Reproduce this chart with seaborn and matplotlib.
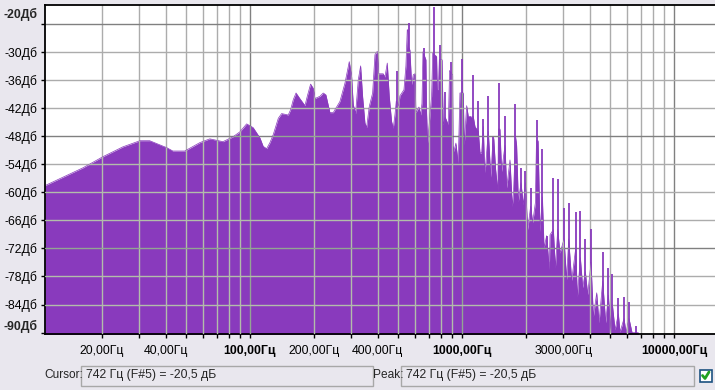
import pandas as pd
import matplotlib
matplotlib.use("Agg")
import matplotlib.pyplot as plt
from matplotlib.patches import Rectangle
from matplotlib.lines import Line2D
import seaborn as sns

# spectrum body, low / mid / high part
low_hz = [10.8, 16.3, 20.3, 25.2, 30.3, 33.7, 40.6, 43.3, 49.3, 58.1, 64.7, 74.6, 83, 89.7, 96.5,
          103.6, 111.5, 115.5, 119.9, 124.3, 128.8, 136.1, 141.1, 151.6, 155.5, 160.2, 165, 172]
low_db = [-58.6, -54.8, -52.4, -50.3, -49.0, -49.0, -50.5, -51.2, -51.2, -49.4, -48.6, -49.2, -48.2, -47.1, -45.4,
          -46.2, -48.4, -50.2, -50.7, -49.4, -47.7, -44.2, -43.2, -43.5, -42.4, -40.2, -38.8, -40.0]

mid_hz = [181.8, 186.4, 193.3, 198.9, 202.6, 213.9, 221.7, 228.2, 238.4, 247.1,
          265.8, 280.6, 294.1, 301.7, 307.2, 315, 324.3, 332.7, 339.9, 348.7,
          355, 365.4, 379, 388.8, 398.6, 404.4, 425.4, 433.2, 444.4, 454,
          465.7, 474.3, 482.9, 490, 502.5, 509.9, 532.6, 544, 552, 556,
          560, 568, 578.8, 589.3, 600, 606, 626.8, 638.2, 647.6, 654.7,
          676, 681, 688.6, 700, 719, 728, 759, 765, 773, 782,
          805, 816, 834, 862, 874, 903, 907, 916, 936, 960,
          970, 978, 1014, 1025, 1041, 1052, 1071, 1098, 1110, 1130]
mid_db = [-41.5, -39.5, -36.9, -37.8, -40.0, -39.5, -38.8, -39.2, -43.0, -43.0,
          -40.6, -36.7, -32.1, -35.3, -41.3, -43.2, -36.0, -33.0, -39.5, -45.2,
          -46.2, -41.7, -38.8, -30.6, -29.9, -34.7, -34.7, -35.4, -32.4, -39.5,
          -44.9, -46.3, -43.5, -40.5, -41.7, -39.4, -38.1, -33.0, -25.3, -25.3,
          -29.0, -29.6, -37.0, -34.9, -34.7, -43.0, -41.8, -43.5, -41.0, -30.0,
          -31.7, -43.0, -49.5, -45.6, -39.5, -30.3, -31.0, -38.0, -38.1, -31.7,
          -31.7, -45.6, -44.0, -45.6, -34.0, -35.0, -50.0, -51.3, -49.5, -53.8,
          -45.0, -38.8, -38.8, -49.9, -45.0, -41.5, -43.8, -43.8, -44.0, -43.8]

high_hz = [1152, 1194, 1216, 1238, 1261, 1275, 1285, 1331, 1367, 1395,
           1412, 1440, 1477, 1485, 1510, 1538, 1595, 1625, 1684, 1727,
           1750, 1791, 1810, 1844, 1898, 1947, 1990, 2041, 2108, 2155,
           2218, 2245, 2285, 2333, 2394, 2437, 2508, 2582, 2601, 2697,
           2757, 2827, 2900, 3029, 3116, 3185, 3291, 3437, 3500, 3616,
           3709, 3818, 3915, 4060, 4164, 4318, 4428, 4609, 4761, 4901,
           5027, 5120, 5269, 5463, 5562, 5809, 5937, 6133, 6338, 6643, 6789]
high_db = [-46.0, -47.0, -51.6, -51.6, -46.0, -53.7, -55.8, -47.0, -56.8, -50.0,
           -48.4, -55.0, -59.9, -46.5, -46.5, -55.6, -50.0, -59.1, -53.1, -63.0,
           -60.0, -48.2, -50.0, -62.0, -58.0, -62.7, -58.0, -68.0, -63.0, -66.5,
           -62.3, -49.0, -49.0, -68.4, -61.0, -71.9, -69.3, -76.6, -69.1, -68.0,
           -76.2, -68.0, -73.0, -70.0, -78.7, -70.0, -78.9, -72.0, -82.4, -74.0,
           -80.4, -77.0, -81.9, -75.0, -86.6, -81.5, -87.9, -79.0, -87.9, -82.0,
           -90.0, -84.0, -89.4, -86.0, -89.9, -87.0, -90.0, -87.0, -90.0, -90.0, -90.0]

# narrow harmonics standing on the body
spike_hz = [495.3, 560.2, 661.9, 742, 790, 834.3, 884, 996, 1123, 1194,
            1261, 1331, 1395, 1500, 1595, 1784, 1898, 1990, 2108, 2267,
            2394, 2508, 2697, 2827, 3029, 3185, 3437, 3616, 3818, 4060,
            4609, 4901, 5120, 5463, 5809, 6133, 6643]
spike_db = [-34.0, -23.9, -29.2, -20.5, -28.5, -38.5, -32.1, -31.5, -34.9, -40.6,
            -44.3, -39.4, -48.2, -36.7, -43.7, -41.1, -54.8, -55.4, -59.1, -44.5,
            -50.7, -69.3, -56.9, -57.1, -63.3, -62.3, -64.2, -64.0, -70.0, -67.8,
            -72.7, -76.2, -77.5, -82.6, -82.4, -83.4, -88.6]

# axis ticks
freq_ticks = [20, 30, 40, 50, 60, 70, 80, 90, 100, 200, 300, 400, 500, 600, 700, 800, 900, 1000,
              2000, 3000, 4000, 5000, 6000, 7000, 8000, 9000, 10000]
freq_labels = {20: "20,00Гц", 40: "40,00Гц", 100: "100,00Гц", 200: "200,00Гц", 400: "400,00Гц",
               1000: "1000,00Гц", 3000: "3000,00Гц", 10000: "10000,00Гц"}
bold_freqs = [100, 1000, 10000]
db_ticks = [-24, -30, -36, -42, -48, -54, -60, -66, -72, -78, -84]
db_major = [-24, -48, -72]
cursor_text = "742 Гц (F#5) = -20,5 дБ"
peak_text = "742 Гц (F#5) = -20,5 дБ"

df = pd.DataFrame({"hz": low_hz + mid_hz + high_hz, "db": low_db + mid_db + high_db})

BG = "#E9E7EE"
PURPLE = "#893ABD"
W, H = 715, 390

sns.set_theme(style="white")
plt.rcParams["font.family"] = ["Liberation Sans", "DejaVu Sans"]

fig = plt.figure(figsize=(W / 100, H / 100), dpi=100, facecolor=BG)
ax = fig.add_axes([44.5 / W, 1 - 334 / H, (W - 44.5) / W, 329 / H])
ax.set_xscale("log")
ax.set_xlim(10.75, 15600)
ax.set_ylim(-90.3, -20)
ax.set_facecolor("white")

# grid under the spectrum
for f in freq_ticks:
    ax.axvline(f, color="#808080" if f in bold_freqs else "#ACACAC", lw=1, zorder=1)
for d in db_ticks:
    ax.axhline(d, color="#808080" if d in db_major else "#ACACAC", lw=1, zorder=1)

poly = ax.fill_between(df["hz"], df["db"], -91, color=PURPLE, lw=0, zorder=2, antialiased=False)
sns.lineplot(data=df, x="hz", y="db", estimator=None, sort=False, color=PURPLE, lw=0.5, ax=ax, zorder=2.1)
ax.vlines(spike_hz, -91, spike_db, color=PURPLE, lw=1.3, zorder=2.2)

# grid shows through the fill as a pale green
clip = poly.get_paths()[0]
for f in freq_ticks:
    l = ax.axvline(f, color="#93A593" if f in bold_freqs else "#B2BDAA", lw=1, zorder=3)
    l.set_clip_path(clip, ax.transData)
for d in db_ticks:
    l = ax.axhline(d, color="#93A593" if d in db_major else "#B2BDAA", lw=1, zorder=3)
    l.set_clip_path(clip, ax.transData)

ax.set_xlabel("")
ax.set_ylabel("")
ax.minorticks_off()
ax.set_xticks(freq_ticks)
ax.set_xticklabels([freq_labels.get(f, "") for f in freq_ticks])
for lab, f in zip(ax.get_xticklabels(), freq_ticks):
    if f in bold_freqs:
        lab.set_fontweight("bold")
ax.set_yticks(db_ticks + [-90])
ax.set_yticklabels(["" if d == -24 else f"{d}Дб" for d in db_ticks] + [""])
ax.tick_params(axis="both", length=3, width=1, color="black", labelcolor="black", labelsize=8.8,
               bottom=True, left=True, pad=2)
ax.tick_params(axis="x", pad=5)

for s in ["top", "left", "bottom"]:
    ax.spines[s].set_color("black")
    ax.spines[s].set_linewidth(1.3)
ax.spines["right"].set_visible(False)

# end labels of the dB scale sit off their ticks
ax.annotate("-20Дб", xy=(38 / W, 1 - 14 / H), xycoords="figure fraction", ha="right", va="center",
            fontweight="bold", fontsize=8.8, annotation_clip=False)
ax.annotate("-90Дб", xy=(38 / W, 1 - 326 / H), xycoords="figure fraction", ha="right", va="center",
            fontweight="bold", fontsize=8.8, annotation_clip=False)


def box(x0, y0, x1, y1, **kw):
    fig.add_artist(Rectangle((x0 / W, 1 - y1 / H), (x1 - x0) / W, (y1 - y0) / H,
                             transform=fig.transFigure, **kw))


# status bar under the plot
box(80.5, 365.5, 372.5, 385.5, facecolor=BG, edgecolor="#A8A8A8", lw=1)
box(400.5, 365.5, 693.5, 385.5, facecolor=BG, edgecolor="#A8A8A8", lw=1)
fig.text(44 / W, 1 - 375 / H, "Cursor:", va="center", fontsize=8.6)
fig.text(373 / W, 1 - 375 / H, "Peak:", va="center", fontsize=8.6)
fig.text(86 / W, 1 - 375 / H, cursor_text, va="center", fontsize=8.8)
fig.text(406 / W, 1 - 375 / H, peak_text, va="center", fontsize=8.8)
box(699.5, 369.5, 711.5, 381.5, facecolor="white", edgecolor="#1C5180", lw=1.2)
fig.add_artist(Line2D([702.5 / W, 705 / W, 709 / W], [1 - 375.5 / H, 1 - 378.5 / H, 1 - 372 / H],
                      color="#21A121", lw=2, transform=fig.transFigure))

fig.savefig("out.png", dpi=100, facecolor=BG)
